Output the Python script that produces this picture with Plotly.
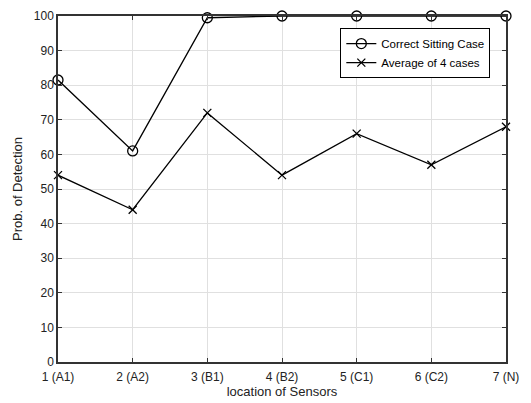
import plotly.graph_objects as go

x_vals = [1, 2, 3, 4, 5, 6, 7]
tick_labels = ["1 (A1)", "2 (A2)", "3 (B1)", "4 (B2)", "5 (C1)", "6 (C2)", "7 (N)"]
correct_sitting = [81.5, 61, 99.5, 100, 100, 100, 100]
average_4 = [54, 44, 72, 54, 66, 57, 68]

fig = go.Figure()
fig.add_trace(go.Scatter(
    x=x_vals, y=correct_sitting, mode="lines+markers", name="Correct Sitting Case",
    line=dict(color="black", width=1.3),
    marker=dict(symbol="circle-open", size=10, color="black", line=dict(width=1.3)),
    cliponaxis=False,
))
fig.add_trace(go.Scatter(
    x=x_vals, y=average_4, mode="lines+markers", name="Average of 4 cases",
    line=dict(color="black", width=1.3),
    marker=dict(symbol="x-thin-open", size=8, color="black", line=dict(width=1.3)),
    cliponaxis=False,
))

# page body has an 8px default margin, so the figure is shifted by 8px
fig.update_layout(
    width=523, height=395,
    margin=dict(l=50, r=25, t=8, b=41, autoexpand=False),
    paper_bgcolor="white", plot_bgcolor="white",
    font=dict(family="Liberation Sans, Arial, sans-serif", size=12, color="#222"),
    legend=dict(
        x=0.965, y=0.965, xanchor="right", yanchor="top",
        bgcolor="white", bordercolor="black", borderwidth=1,
        font=dict(size=11.5, color="black"),
        tracegroupgap=0,
    ),
    showlegend=True,
)
fig.update_xaxes(
    range=[1, 7], tickvals=x_vals, ticktext=tick_labels,
    showgrid=True, gridcolor="#e0e0e0", gridwidth=1,
    showline=True, linecolor="#333", linewidth=1.5, mirror="ticks",
    ticks="inside", ticklen=4, tickcolor="#333",
    zeroline=False, automargin=False, ticklabelstandoff=3,
    title=dict(text="location of Sensors", font=dict(size=13), standoff=2),
    tickfont=dict(size=12),
)
fig.update_yaxes(
    range=[0, 100], dtick=10,
    showgrid=True, gridcolor="#e0e0e0", gridwidth=1,
    showline=True, linecolor="#333", linewidth=1.5, mirror="ticks",
    ticks="inside", ticklen=4, tickcolor="#333",
    zeroline=False, automargin=False,
    title=dict(text="Prob. of Detection", font=dict(size=13), standoff=8),
    tickfont=dict(size=12),
)

fig.write_html("out.html")
